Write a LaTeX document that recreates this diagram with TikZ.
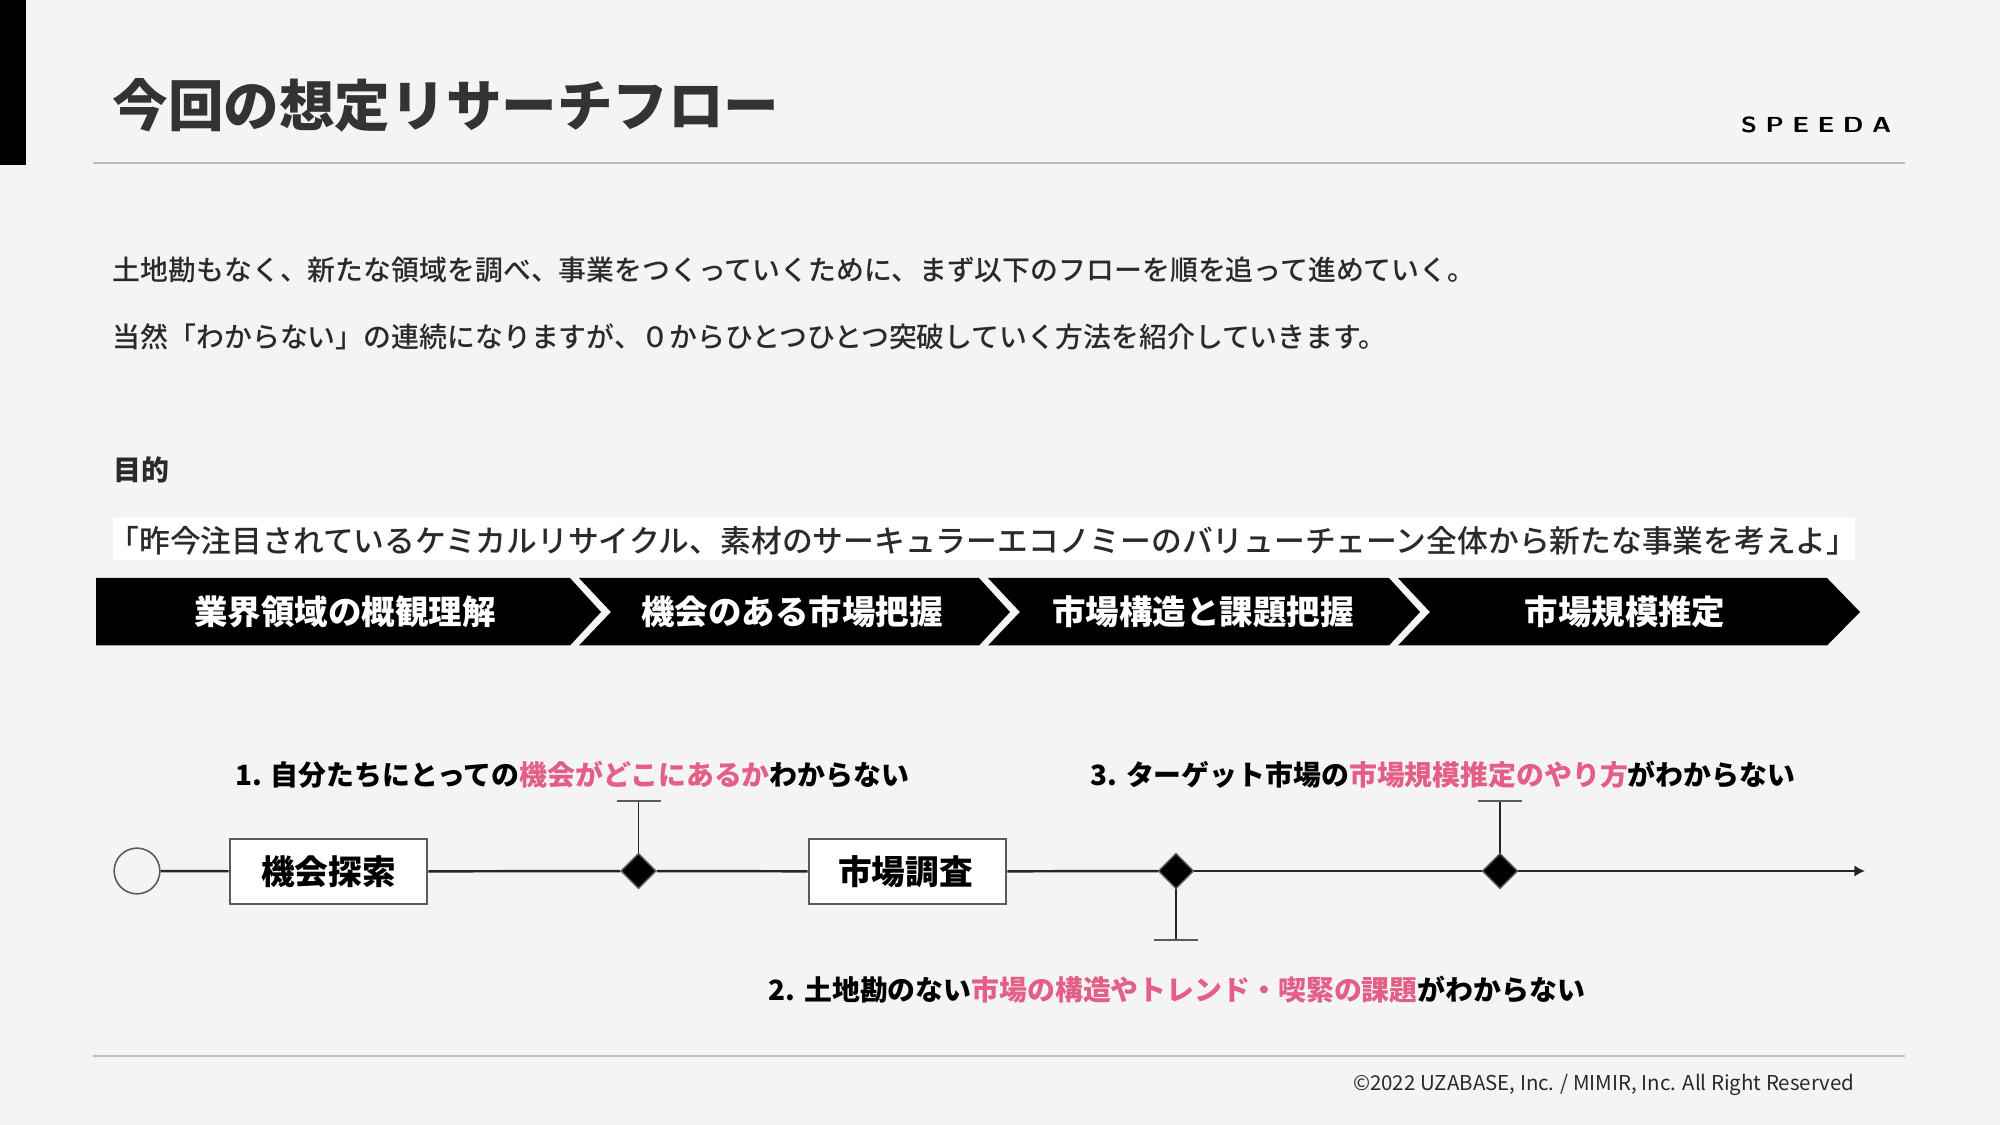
\documentclass[tikz,border=0pt]{standalone}
\usepackage{fontspec}
\setmainfont{Noto Sans CJK JP}
\newfontfamily\medfont{Noto Sans CJK JP Medium}
\usetikzlibrary{arrows.meta,shapes.geometric}
\definecolor{pagegray}{HTML}{F4F4F4}
\definecolor{rulegray}{HTML}{BDBDBD}
\definecolor{edgegray}{HTML}{5A5A5A}
\definecolor{inkgray}{HTML}{2A2A2A}
\definecolor{hotpink}{HTML}{E35F87}
\tikzset{
  bodytext/.style={anchor=west, inner sep=0pt, text=inkgray, font=\fontsize{7.93pt}{9pt}\medfont},
  flowtext/.style={inner sep=0pt, text=white, font=\fontsize{9.52pt}{11pt}\bfseries},
  asktext/.style={inner sep=0pt, text=black, font=\fontsize{7.93pt}{10pt}\bfseries},
  stagebox/.style={draw=edgegray, line width=0.55pt, fill=white, minimum width=56.2pt, minimum height=18.5pt, inner sep=0pt, font=\fontsize{9.58pt}{11pt}\bfseries},
  gatemark/.style={diamond, aspect=1, draw=edgegray, line width=0.4pt, fill=black, minimum size=10pt, inner sep=0pt},
  flowline/.style={black!85, line width=0.7pt},
}
\newcommand{\hot}[1]{\textcolor{hotpink}{#1}}
\begin{document}
\begin{tikzpicture}[x=0.01cm, y=-0.01cm]
            \useasboundingbox (0,0) rectangle (2000,1125);
            \fill[pagegray] (0,0) rectangle (2000,1125);
            % Header
            \fill[black] (0,0) rectangle (26,165);
            \coordinate (headleft) at (93,163);
            \coordinate (headright) at (1905,163);
            \draw[rulegray, line width=0.6pt] (headleft) -- (headright);
            \node[bodytext, text=black!80, font=\fontsize{15.8pt}{18pt}\bfseries] (title) at (112,105) {今回の想定リサーチフロー};
            \node[anchor=east, inner sep=0pt, text=black, font=\fontsize{6.2pt}{8pt}\bfseries\sffamily] (logo) at (1892,124.5) {\scalebox{1.2}[1]{S\hspace{2pt}P\hspace{2pt}E\hspace{2pt}E\hspace{2pt}D\hspace{2pt}A}};
            % Intro text
            \node[bodytext] (introa) at (112,270) {土地勘もなく、新たな領域を調べ、事業をつくっていくために、まず以下のフローを順を追って進めていく。};
            \node[bodytext] (introb) at (112,337) {当然「わからない」の連続になりますが、０からひとつひとつ突破していく方法を紹介していきます。};
            \node[bodytext, font=\fontsize{7.93pt}{9pt}\bfseries] (aimhead) at (113,470) {目的};
            % Aim, on a white band
            \fill[white] (112.5,518) rectangle (1855,560);
            \node[bodytext, anchor=center, font=\fontsize{8.75pt}{10pt}\medfont] (aim) at (983,541) {「昨今注目されているケミカルリサイクル、素材のサーキュラーエコノミーのバリューチェーン全体から新たな事業を考えよ」};
            % Chevrons
            \fill[black] (96,578) -- (570,578) -- (601,612) -- (570,645.5) -- (96,645.5) -- cycle;
            \fill[black] (579,578) -- (979,578) -- (1010,612) -- (979,645.5) -- (579,645.5) -- (611,612) -- cycle;
            \fill[black] (988,578) -- (1389,578) -- (1420,612) -- (1389,645.5) -- (988,645.5) -- (1020,612) -- cycle;
            \fill[black] (1398,578) -- (1827,578) -- (1860,612) -- (1827,645.5) -- (1398,645.5) -- (1430,612) -- cycle;
            \node[flowtext] (flowa) at (345,612) {業界領域の概観理解};
            \node[flowtext] (flowb) at (792,612) {機会のある市場把握};
            \node[flowtext] (flowc) at (1203,612) {市場構造と課題把握};
            \node[flowtext] (flowd) at (1625,612) {市場規模推定};
            % Timeline
            \node[circle, draw=edgegray, line width=0.45pt, minimum size=13pt, inner sep=0pt] (start) at (137,871) {};
            \node[stagebox] (search) at (328.5,871.5) {機会探索};
            \node[gatemark] (gatea) at (638.5,871) {};
            \node[stagebox] (survey) at (907.5,871.5) {\hspace{-1.2pt}市場調査};
            \node[gatemark] (gateb) at (1176,871) {};
            \node[gatemark] (gatec) at (1500,871) {};
            \coordinate (lineend) at (1865,871);
            \draw[flowline] (start) -- (search);
            \draw[flowline] (search) -- (gatea);
            \draw[flowline] (gatea) -- (survey);
            \draw[flowline] (survey) -- (gateb);
            \draw[flowline] (gateb) -- (gatec);
            \draw[flowline, -{Latex[length=3pt,width=3.2pt]}] (gatec) -- (lineend);
            % Stems
            \coordinate (stema) at (638.5,801);
            \coordinate (stemb) at (1176,940);
            \coordinate (stemc) at (1500,801);
            \draw[flowline, line width=0.55pt] (gatea) -- (stema);
            \draw[flowline, line width=0.55pt] (gateb) -- (stemb);
            \draw[flowline, line width=0.55pt] (gatec) -- (stemc);
            \draw[edgegray, line width=0.55pt] ([xshift=-22*0.01cm]stema) -- ([xshift=22*0.01cm]stema);
            \draw[edgegray, line width=0.55pt] ([xshift=-22*0.01cm]stemb) -- ([xshift=22*0.01cm]stemb);
            \draw[edgegray, line width=0.55pt] ([xshift=-22*0.01cm]stemc) -- ([xshift=22*0.01cm]stemc);
            % Questions
            \node[asktext] (aska) at (572.5,774.5) {1. 自分たちにとっての\hot{機会がどこにあるか}わからない};
            \node[asktext] (askb) at (1177,989.5) {2. 土地勘のない\hot{市場の構造やトレンド・喫緊の課題}がわからない};
            \node[asktext] (askc) at (1443,774.5) {3. ターゲット市場の\hot{市場規模推定のやり方}がわからない};
            % Footer
            \coordinate (footleft) at (93,1056);
            \coordinate (footright) at (1905,1056);
            \draw[rulegray, line width=0.6pt] (footleft) -- (footright);
            \node[anchor=east, inner sep=0pt, text=inkgray, font=\fontsize{5.82pt}{8pt}\selectfont] (copy) at (1855,1085) {©2022 UZABASE, Inc. / MIMIR, Inc. All Right Reserved};
\end{tikzpicture}
\end{document}
